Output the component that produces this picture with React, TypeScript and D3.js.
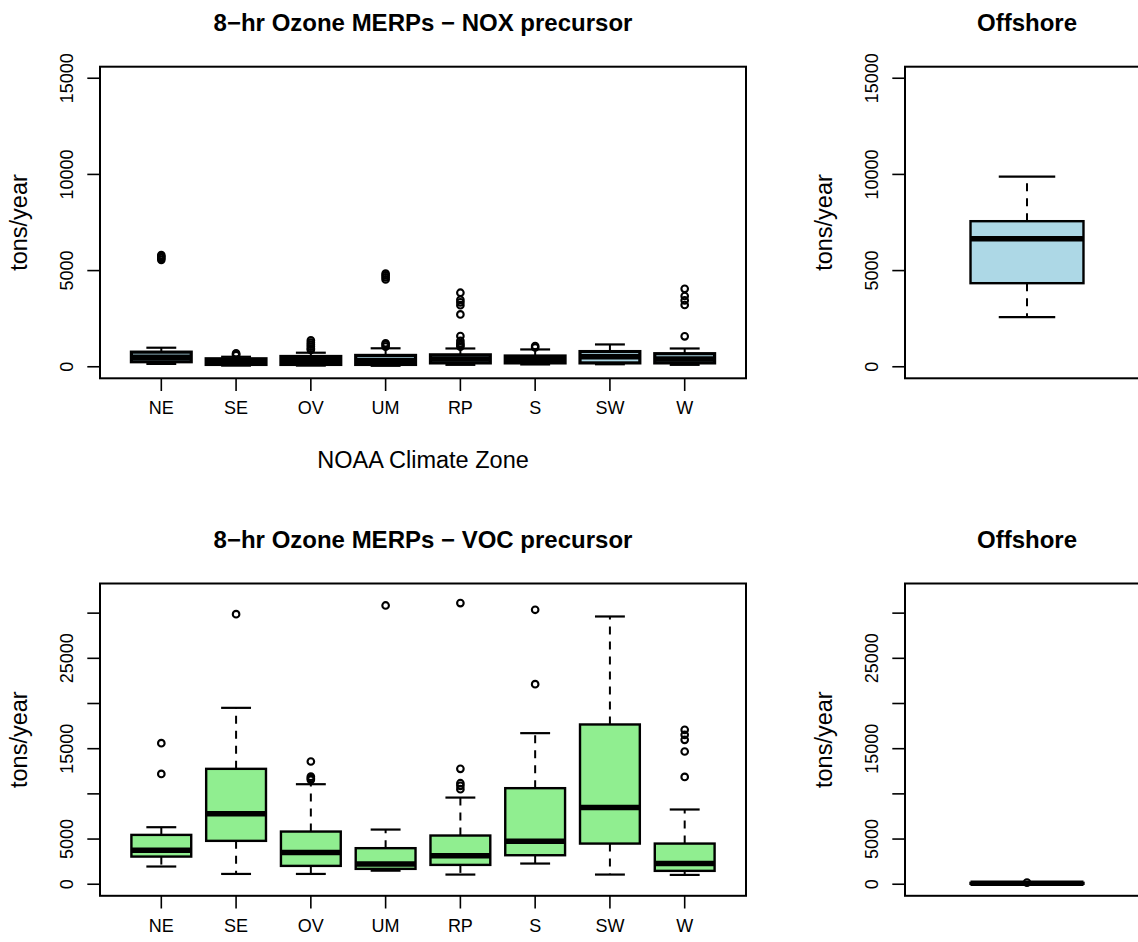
import React from "react";
import * as d3 from "d3";

const zones = ["NE", "SE", "OV", "UM", "RP", "S", "SW", "W"];

// NOX precursor (tons/year) five-number summaries by zone
const noxLow = [150, 60, 60, 50, 100, 120, 130, 100];
const noxQ1 = [260, 120, 120, 120, 200, 200, 200, 200];
const noxMedian = [500, 250, 320, 330, 400, 380, 520, 400];
const noxQ3 = [760, 415, 535, 590, 620, 560, 790, 680];
const noxHigh = [990, 520, 730, 960, 950, 900, 1160, 950];
const noxOutliers = [
  [5560, 5650, 5720, 5800],
  [600, 650, 700],
  [880, 950, 1050, 1150, 1250, 1370],
  [1050, 1150, 1220, 4540, 4650, 4750, 4840],
  [1050, 1130, 1220, 1350, 1600, 2720, 3200, 3350, 3480, 3850],
  [1000, 1080],
  [],
  [1580, 3210, 3450, 3680, 4050],
];

// VOC precursor (tons/year)
const vocLow = [1960, 1140, 1140, 1500, 1070, 2290, 1070, 1030];
const vocQ1 = [3060, 4800, 2030, 1700, 2140, 3210, 4500, 1480];
const vocMedian = [3750, 7800, 3500, 2250, 3140, 4750, 8490, 2290];
const vocQ3 = [5460, 12770, 5830, 3990, 5390, 10630, 17680, 4500];
const vocHigh = [6310, 19520, 11070, 6050, 9590, 16720, 29630, 8270];
const vocOutliers = [
  [12210, 15610],
  [29890],
  [11550, 11730, 11900, 13580],
  [30850],
  [10520, 10890, 11180, 12770, 31110],
  [22140, 30370],
  [],
  [11880, 14690, 15980, 16530, 17090],
];

// Offshore
const offshoreCats = [""];
const offNoxLow = [2578];
const offNoxQ1 = [4345];
const offNoxMedian = [6653];
const offNoxQ3 = [7568];
const offNoxHigh = [9890];
const offNoxOutliers: number[][] = [[]];
const offVocLow = [20];
const offVocQ1 = [50];
const offVocMedian = [100];
const offVocQ3 = [150];
const offVocHigh = [160];
const offVocOutliers = [[180]];

const noxLim = [0, 15000];
const vocLim = [0, 32000];
const noxTicks = [0, 5000, 10000, 15000];
const noxTickLabels = ["0", "5000", "10000", "15000"];
const vocTicks = [0, 5000, 10000, 15000, 20000, 25000, 30000];
const vocTickLabels = ["0", "5000", "", "15000", "", "25000", ""];

const titleNox = "8\u2212hr Ozone MERPs \u2212 NOX precursor";
const titleVoc = "8\u2212hr Ozone MERPs \u2212 VOC precursor";
const xTitle = "NOAA Climate Zone";
const yTitle = "tons/year";

const FONT = "'Liberation Sans', Arial, Helvetica, sans-serif";

type PanelProps = {
  left: number; right: number; top: number; bottom: number;
  lim: number[]; ticks: number[]; tickLabels: string[];
  cats: string[]; lo: number[]; q1: number[]; med: number[]; q3: number[]; hi: number[]; outs: number[][];
  fill: string; boxWex: number; boxStroke: number; title: string; xlab?: string; showCats: boolean;
};

function Panel(p: PanelProps) {
  const n = p.cats.length;
  const pad = 0.04 * n;
  const x = d3.scaleLinear().domain([0.5 - pad, n + 0.5 + pad]).range([p.left, p.right]);
  const span = p.lim[1] - p.lim[0];
  const y = d3.scaleLinear().domain([p.lim[0] - 0.04 * span, p.lim[1] + 0.04 * span]).range([p.bottom, p.top]);
  const unit = x(2) - x(1);
  const bw = p.boxWex * unit;
  const cx = (p.left + p.right) / 2;
  const tickLen = 12.7;
  return (
    <g>
      {p.cats.map((c, i) => {
        const xc = x(i + 1);
        return (
          <g key={"b" + i}>
            <line x1={xc} x2={xc} y1={y(p.q3[i])} y2={y(p.hi[i])} stroke="#000" strokeWidth={2} strokeDasharray="8 7" />
            <line x1={xc} x2={xc} y1={y(p.q1[i])} y2={y(p.lo[i])} stroke="#000" strokeWidth={2} strokeDasharray="8 7" />
            <line x1={xc - bw / 4} x2={xc + bw / 4} y1={y(p.hi[i])} y2={y(p.hi[i])} stroke="#000" strokeWidth={2.2} />
            <line x1={xc - bw / 4} x2={xc + bw / 4} y1={y(p.lo[i])} y2={y(p.lo[i])} stroke="#000" strokeWidth={2.2} />
            <rect x={xc - bw / 2} y={y(p.q3[i])} width={bw} height={Math.max(0.5, y(p.q1[i]) - y(p.q3[i]))}
              fill={p.fill} stroke="#000" strokeWidth={p.boxStroke} />
            <line x1={xc - bw / 2} x2={xc + bw / 2} y1={y(p.med[i])} y2={y(p.med[i])} stroke="#000" strokeWidth={5.5} />
            {p.outs[i].map((o, j) => (
              <circle key={j} cx={xc} cy={y(o)} r={3.3} fill="none" stroke="#000" strokeWidth={2.1} />
            ))}
          </g>
        );
      })}
      <rect x={p.left} y={p.top} width={p.right - p.left} height={p.bottom - p.top} fill="none" stroke="#000" strokeWidth={2} />
      {p.ticks.map((t, i) => (
        <g key={"t" + i}>
          <line x1={p.left - tickLen} x2={p.left} y1={y(t)} y2={y(t)} stroke="#000" strokeWidth={1.6} />
          {p.tickLabels[i] !== "" && (
            <text transform={`translate(${p.left - 27},${y(t)}) rotate(-90)`} textAnchor="middle"
              fontSize={18} fontFamily={FONT} fill="#000">{p.tickLabels[i]}</text>
          )}
        </g>
      ))}
      {p.showCats && p.cats.map((c, i) => (
        <g key={"c" + i}>
          <line x1={x(i + 1)} x2={x(i + 1)} y1={p.bottom} y2={p.bottom + tickLen} stroke="#000" strokeWidth={1.6} />
          <text x={x(i + 1)} y={p.bottom + 36} textAnchor="middle" fontSize={18} fontFamily={FONT} fill="#000">{c}</text>
        </g>
      ))}
      <text transform={`translate(${p.left - 73},${(p.top + p.bottom) / 2}) rotate(-90)`} textAnchor="middle"
        fontSize={23.5} fontFamily={FONT} fill="#000">{yTitle}</text>
      {p.xlab && (
        <text x={cx} y={p.bottom + 90} textAnchor="middle" fontSize={23.5} fontFamily={FONT} fill="#000">{p.xlab}</text>
      )}
      <text x={cx} y={p.top - 36} textAnchor="middle" fontSize={24} fontWeight="bold" fontFamily={FONT} fill="#000">{p.title}</text>
    </g>
  );
}

export default function App() {
  return (
    <svg width={1138} height={942} style={{ position: "absolute", left: 0, top: 0, background: "#fff" }}>
      <rect width={1138} height={942} fill="#fff" />
      <Panel left={100} right={746} top={66.7} bottom={378.3} lim={noxLim} ticks={noxTicks} tickLabels={noxTickLabels}
        cats={zones} lo={noxLow} q1={noxQ1} med={noxMedian} q3={noxQ3} hi={noxHigh} outs={noxOutliers}
        fill="#ADD8E6" boxWex={0.8} boxStroke={3.2} title={titleNox} xlab={xTitle} showCats={true} />
      <Panel left={905} right={1149} top={66.7} bottom={378.3} lim={noxLim} ticks={noxTicks} tickLabels={noxTickLabels}
        cats={offshoreCats} lo={offNoxLow} q1={offNoxQ1} med={offNoxMedian} q3={offNoxQ3} hi={offNoxHigh} outs={offNoxOutliers}
        fill="#ADD8E6" boxWex={0.5} boxStroke={2.4} title="Offshore" showCats={false} />
      <Panel left={100} right={746} top={583.5} bottom={895.8} lim={vocLim} ticks={vocTicks} tickLabels={vocTickLabels}
        cats={zones} lo={vocLow} q1={vocQ1} med={vocMedian} q3={vocQ3} hi={vocHigh} outs={vocOutliers}
        fill="#90EE90" boxWex={0.8} boxStroke={2.4} title={titleVoc} showCats={true} />
      <Panel left={905} right={1149} top={583.5} bottom={895.8} lim={vocLim} ticks={vocTicks} tickLabels={vocTickLabels}
        cats={offshoreCats} lo={offVocLow} q1={offVocQ1} med={offVocMedian} q3={offVocQ3} hi={offVocHigh} outs={offVocOutliers}
        fill="#90EE90" boxWex={0.5} boxStroke={2.4} title="Offshore" showCats={false} />
    </svg>
  );
}
